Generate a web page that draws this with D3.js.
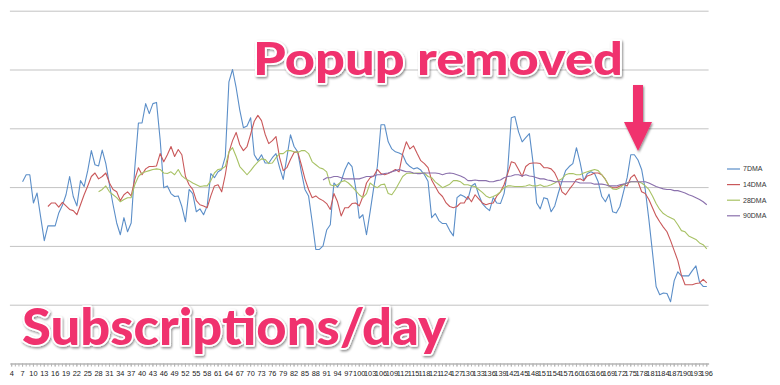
<!DOCTYPE html>
<html>
<head>
<style type="text/css">
    body { margin: 0; background: #fff; }
    #chart { width: 780px; height: 385px; display: block; }
    .grid line { stroke: #c3c3c3; stroke-width: 1px; }
    .grid path { display: none; }
    .xaxis path, .xaxis line { stroke: #b5b5b5; }
    .xaxis text { font-family: "Liberation Sans", Arial, sans-serif; font-size: 7.4px; fill: #222; }
    .legend text { font-family: "Liberation Sans", Arial, sans-serif; font-size: 7px; fill: #333; }
    .series { fill: none; stroke-width: 1.1px; stroke-linejoin: round; }
    .callout { font-family: Lato, "Open Sans", sans-serif; font-weight: 900; fill: #f0326e;
               stroke: #fff; stroke-width: 3.5px; paint-order: stroke; stroke-linejoin: round; }
</style>
<script src="https://d3js.org/d3.v7.min.js"></script>
</head>
<body>
<svg id="chart"></svg>
<script type="text/javascript">
// category labels (day numbers) and the four moving averages
const days = d3.range(4, 197);

const dma7Start = 7;
const dma7 = [
  30.9, 32.1, 32.1, 27.3, 29.0, 24.9, 20.9, 23.4, 23.4, 23.4,
  25.6, 26.9, 28.7, 31.8, 28.4, 26.8, 31.1, 30.1, 32.8, 36.2,
  33.8, 33.6, 36.3, 34.0, 30.4, 27.0, 23.9, 21.9, 24.8, 22.4,
  23.9, 33.3, 40.9, 40.9, 44.2, 42.5, 44.2, 44.4, 38.1, 29.9,
  30.2, 28.9, 28.4, 28.5, 26.7, 24.1, 29.6, 28.9, 25.8, 26.3,
  25.3, 26.8, 32.3, 31.6, 32.6, 33.0, 35.2, 47.9, 50.0, 46.9,
  43.1, 40.1, 40.4, 41.8, 35.5, 34.5, 35.5, 34.1, 34.1, 35.0,
  35.7, 33.3, 31.3, 35.0, 38.9, 36.9, 36.0, 32.6, 29.6, 28.5,
  24.1, 19.4, 19.4, 20.0, 22.7, 23.6, 30.7, 30.0, 31.0, 32.9,
  34.2, 33.5, 29.9, 24.7, 25.3, 21.9, 25.8, 29.9, 33.5, 40.6,
  40.6, 37.7, 36.5, 36.0, 35.8, 35.5, 34.1, 33.5, 33.1, 33.3,
  32.9, 32.1, 31.0, 24.8, 25.5, 24.3, 23.8, 23.8, 22.6, 21.7,
  28.2, 28.7, 28.4, 27.9, 30.2, 30.6, 28.7, 27.2, 26.5, 26.0,
  28.2, 27.3, 27.2, 28.9, 32.9, 41.8, 42.0, 39.4, 37.7, 38.4,
  39.1, 34.2, 27.3, 26.3, 28.2, 28.0, 25.8, 26.8, 29.0, 31.0,
  32.8, 33.5, 34.0, 36.7, 34.2, 31.1, 32.3, 32.6, 32.3, 30.9,
  28.4, 27.5, 28.8, 25.8, 25.6, 26.7, 29.2, 31.6, 35.5, 35.5,
  34.6, 33.0, 29.6, 24.5, 18.9, 13.1, 11.7, 12.0, 11.9, 10.5,
  14.1, 15.6, 14.9, 14.9, 14.9, 15.8, 16.6, 13.8, 13.1, 13.1
];

const dma14Start = 14;
const dma14 = [
  26.7, 27.3, 27.3, 26.6, 27.4, 26.8, 26.2, 26.0, 25.3, 27.0,
  28.7, 30.2, 31.8, 32.4, 31.4, 31.8, 32.4, 30.7, 29.6, 29.2,
  27.7, 28.7, 29.2, 28.5, 31.3, 33.3, 32.1, 33.1, 33.5, 33.5,
  33.6, 35.7, 34.3, 35.5, 36.9, 35.2, 36.4, 35.5, 31.8, 30.4,
  29.6, 27.7, 27.0, 26.8, 26.5, 28.5, 30.2, 30.4, 29.2, 32.1,
  35.9, 37.9, 39.3, 37.2, 36.2, 36.9, 39.0, 41.2, 42.2, 41.3,
  39.0, 37.4, 37.9, 38.6, 35.0, 32.8, 33.3, 34.7, 35.9, 36.0,
  33.8, 31.4, 29.6, 28.2, 28.5, 28.0, 27.7, 27.2, 26.2, 28.9,
  27.5, 25.1, 26.5, 26.5, 27.2, 27.3, 26.8, 28.4, 30.7, 31.6,
  31.9, 33.0, 32.3, 32.1, 32.3, 32.6, 33.0, 32.6, 35.7, 37.7,
  36.5, 37.0, 35.7, 34.5, 34.0, 33.3, 31.2, 30.1, 29.0, 28.4,
  27.3, 26.7, 26.5, 26.7, 27.3, 27.3, 28.4, 27.5, 28.7, 28.0,
  27.3, 27.0, 27.2, 27.3, 28.5, 29.2, 30.4, 32.3, 34.3, 34.1,
  33.0, 31.8, 33.5, 34.0, 34.1, 34.1, 34.0, 33.3, 33.3, 33.1,
  32.4, 31.1, 29.2, 28.7, 29.6, 30.4, 31.3, 31.4, 31.1, 31.9,
  32.1, 32.4, 32.4, 32.1, 31.3, 30.2, 29.9, 29.9, 30.2, 30.5,
  30.2, 31.6, 32.1, 30.9, 29.2, 28.9, 27.9, 26.5, 25.1, 24.1,
  23.2, 22.4, 20.9, 19.2, 17.5, 15.0, 13.4, 13.4, 13.4, 13.6,
  13.7, 14.3, 13.7
];

const dma28Start = 28;
const dma28 = [
  29.2, 29.6, 30.2, 29.2, 28.7, 28.2, 27.5, 27.9, 28.2, 28.2,
  30.4, 31.8, 32.4, 32.6, 32.8, 33.0, 33.1, 33.0, 32.4, 32.3,
  32.6, 32.1, 33.0, 31.9, 31.4, 31.1, 30.7, 30.4, 30.1, 30.2,
  30.2, 31.1, 32.4, 33.0, 33.1, 33.5, 36.0, 36.7, 35.2, 33.5,
  32.8, 32.1, 32.8, 33.6, 34.3, 34.8, 34.7, 34.0, 34.1, 35.0,
  35.7, 35.7, 36.2, 36.2, 36.0, 35.9, 36.2, 36.2, 35.7, 34.3,
  33.8, 33.3, 33.1, 32.6, 30.4, 30.2, 30.4, 30.9, 31.1, 30.7,
  30.1, 29.4, 28.7, 28.2, 28.9, 30.7, 30.2, 29.9, 30.4, 30.5,
  28.9, 28.7, 29.6, 30.7, 31.8, 32.3, 32.4, 32.3, 32.4, 32.4,
  32.4, 31.8, 31.6, 30.9, 30.4, 29.9, 30.2, 30.5, 31.1, 31.1,
  30.9, 30.4, 30.4, 30.2, 30.1, 29.6, 29.1, 28.5, 28.2, 28.4,
  28.7, 29.2, 29.9, 30.2, 30.2, 30.1, 30.1, 30.1, 30.2, 30.4,
  30.2, 30.2, 30.4, 30.1, 30.2, 30.4, 30.7, 31.1, 31.4, 32.1,
  32.3, 32.3, 32.1, 32.1, 32.4, 32.6, 32.8, 33.0, 32.8, 32.1,
  31.3, 30.2, 29.7, 29.6, 29.9, 30.4, 30.7, 30.9, 30.9, 30.9,
  30.7, 30.2, 29.6, 28.5, 27.2, 26.2, 25.5, 25.1, 24.8, 24.5,
  23.6, 22.6, 22.4, 21.7, 21.4, 21.1, 20.5, 20.2, 19.5
];

const dma90Start = 90;
const dma90 = [
  31.2, 31.6, 31.6, 31.8, 31.8, 31.6, 31.4, 31.4, 31.4, 31.4,
  31.4, 31.6, 31.8, 31.8, 31.9, 32.1, 32.1, 32.3, 32.4, 32.6,
  32.8, 33.0, 32.8, 32.6, 32.6, 32.4, 32.3, 32.3, 32.4, 32.4,
  32.4, 32.4, 32.3, 32.1, 32.3, 32.4, 32.3, 32.1, 31.9, 31.6,
  31.1, 31.1, 31.2, 31.1, 31.1, 31.1, 30.9, 30.9, 31.1, 31.2,
  31.6, 31.8, 31.9, 32.1, 32.1, 31.9, 32.1, 31.9, 31.8, 31.6,
  31.4, 31.4, 31.2, 31.1, 30.9, 30.9, 30.9, 30.9, 30.9, 30.9,
  30.9, 30.7, 30.7, 30.7, 30.7, 30.5, 30.5, 30.5, 30.4, 30.2,
  30.2, 30.2, 30.4, 30.5, 30.7, 30.9, 30.9, 30.9, 30.9, 30.9,
  30.7, 30.4, 30.1, 29.9, 29.7, 29.6, 29.6, 29.4, 29.4, 29.2,
  29.0, 28.7, 28.5, 28.2, 27.9, 27.5, 27.0
];

const seriesNames = ["7DMA", "14DMA", "28DMA", "90DMA"];
const seriesColors = ["#5b8ec8", "#c9585a", "#a8c265", "#8a70ac"];
const gridValues = [10, 20, 30, 40, 50, 60];

const series = [
    { name: seriesNames[0], start: dma7Start, values: dma7 },
    { name: seriesNames[1], start: dma14Start, values: dma14 },
    { name: seriesNames[2], start: dma28Start, values: dma28 },
    { name: seriesNames[3], start: dma90Start, values: dma90 }
].map(s => ({ name: s.name, points: s.values.map((v, i) => ({ day: s.start + i, v: v })) }));

const svg = d3.select("#chart");
const plot = { left: 9.9, right: 708.6, top: 10.7, bottom: 363.5 };

const x = d3.scaleBand().domain(days).range([plot.left, plot.right]);
const y = d3.scaleLinear().domain([0, 60]).range([plot.bottom, plot.top]);
const color = d3.scaleOrdinal().domain(seriesNames).range(seriesColors);
const cx = d => x(d) + x.bandwidth() / 2;

// horizontal gridlines
svg.append("g")
    .attr("class", "grid")
    .attr("transform", "translate(" + plot.left + ",0)")
    .call(d3.axisLeft(y).tickValues(gridValues).tickSize(-(plot.right - plot.left)).tickFormat(""));

// minor ticks on every day, labels on every third
svg.append("g")
    .attr("class", "xaxis")
    .attr("transform", "translate(0," + plot.bottom + ")")
    .call(d3.axisBottom(x).tickSize(3).tickSizeOuter(0).tickFormat(""));

svg.append("g")
    .attr("class", "xaxis")
    .attr("transform", "translate(0," + plot.bottom + ")")
    .call(d3.axisBottom(x).tickValues(days.filter((d, i) => i % 3 === 0)).tickSize(3).tickSizeOuter(0).tickPadding(4));

const line = d3.line().x(d => cx(d.day)).y(d => y(d.v));

svg.append("g")
    .selectAll("path")
    .data(series)
    .join("path")
    .attr("class", "series")
    .attr("stroke", d => color(d.name))
    .attr("d", d => line(d.points));

// legend
const legend = svg.append("g")
    .attr("class", "legend")
    .attr("transform", "translate(727,169)")
    .selectAll("g")
    .data(seriesNames)
    .join("g")
    .attr("transform", (d, i) => "translate(0," + (i * 15.6) + ")");

legend.append("line")
    .attr("x1", 0).attr("x2", 13)
    .attr("stroke", d => color(d))
    .attr("stroke-width", 1.2);

legend.append("text")
    .attr("x", 16)
    .attr("dy", "0.35em")
    .text(d => d);

// annotations
const defs = svg.append("defs");
const shadow = defs.append("filter").attr("id", "shadow")
    .attr("x", "-10%").attr("y", "-20%").attr("width", "120%").attr("height", "150%");
shadow.append("feDropShadow")
    .attr("dx", 1).attr("dy", 1.5).attr("stdDeviation", 1.3)
    .attr("flood-color", "#000").attr("flood-opacity", 0.45);

svg.append("text")
    .attr("class", "callout")
    .attr("x", 253).attr("y", 75)
    .attr("font-size", 46)
    .attr("textLength", 370)
    .attr("lengthAdjust", "spacingAndGlyphs")
    .attr("filter", "url(#shadow)")
    .text("Popup removed");

svg.append("text")
    .attr("class", "callout")
    .attr("x", 22).attr("y", 345)
    .attr("font-size", 52)
    .attr("textLength", 424)
    .attr("lengthAdjust", "spacingAndGlyphs")
    .attr("filter", "url(#shadow)")
    .text("Subscriptions/day");

svg.append("path")
    .attr("d", "M633,85 L643,85 L643,122 L652,122 L638,151 L624,122 L633,122 Z")
    .attr("fill", "#f0326e")
    .attr("filter", "url(#shadow)");
</script>
</body>
</html>
